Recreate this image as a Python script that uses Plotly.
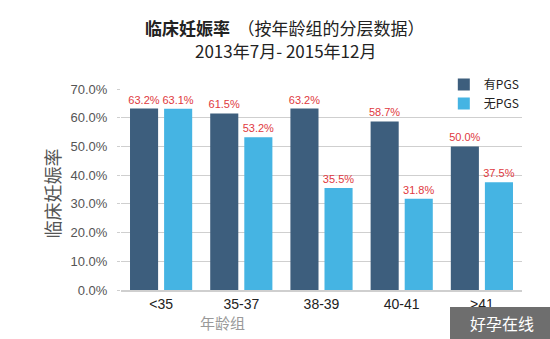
import plotly.graph_objects as go

categories = ["<35", "35-37", "38-39", "40-41", ">41"]
with_pgs = [63.2, 61.5, 63.2, 58.7, 50.0]
without_pgs = [63.1, 53.2, 35.5, 31.8, 37.5]
y_ticks = [0, 10, 20, 30, 40, 50, 60, 70]
y_tick_labels = [f"{v:.1f}%" for v in y_ticks]

FONT = "Liberation Sans, Noto Sans CJK SC, sans-serif"
CJK = "Noto Sans CJK SC, sans-serif"
RED = "#E0393E"

fig = go.Figure()
fig.add_trace(go.Bar(
    name="有PGS", x=categories, y=with_pgs,
    marker=dict(color="#3D5E7D", line=dict(width=0)),
    text=[f"{v:.1f}%" for v in with_pgs], textposition="outside",
    constraintext="none",
    textfont=dict(color=RED, size=11, family=FONT), cliponaxis=False,
))
fig.add_trace(go.Bar(
    name="无PGS", x=categories, y=without_pgs,
    marker=dict(color="#45B4E3", line=dict(width=0)),
    text=[f"{v:.1f}%" for v in without_pgs], textposition="outside",
    constraintext="none",
    textfont=dict(color=RED, size=11, family=FONT), cliponaxis=False,
))

fig.update_layout(
    width=550, height=339,
    margin=dict(l=121, r=28, t=89, b=49),
    paper_bgcolor="white", plot_bgcolor="white",
    barmode="group", bargap=0.15, bargroupgap=0.176,
    font=dict(family=FONT, color="#333"),
    showlegend=True,
    legend=dict(x=0.805, y=1.095, xanchor="left", yanchor="top",
                bgcolor="rgba(0,0,0,0)", font=dict(size=12, family=CJK, color="#222"),
                itemwidth=30, tracegroupgap=0),
)
fig.update_yaxes(
    range=[0, 70], tickvals=y_ticks, ticktext=y_tick_labels,
    showgrid=True, gridcolor="#CFCFCF", gridwidth=1,
    tickfont=dict(size=13, color="#555", family=FONT),
    ticks="outside", ticklen=3, tickcolor="#CFCFCF", ticklabelstandoff=7,
    zeroline=False, showline=False,
)
fig.update_xaxes(
    tickfont=dict(size=14, color="#222", family=FONT),
    showline=True, linecolor="#CFCFCF", linewidth=1.5,
    ticks="", showgrid=False,
)

# title (two lines)
fig.add_annotation(
    xref="paper", yref="paper", x=(285 - 121) / 401, y=(290 - 27) / 201,
    xanchor="center", yanchor="middle",
    text="<b>临床妊娠率</b>  （按年龄组的分层数据）",
    showarrow=False, font=dict(size=17, family=CJK, color="#222"),
)
fig.add_annotation(
    xref="paper", yref="paper", x=(286 - 121) / 401, y=(290 - 50) / 201,
    xanchor="center", yanchor="middle",
    text="2013年7月- 2015年12月",
    showarrow=False, font=dict(size=17, family=CJK, color="#222"),
)
# y axis title
fig.add_annotation(
    xref="paper", yref="paper", x=0, y=0.48, xanchor="center", yanchor="middle",
    xshift=-69, text="临床妊娠率", textangle=-90, showarrow=False,
    font=dict(size=18, family=CJK, color="#555"),
)
# x axis title
fig.add_annotation(
    xref="paper", yref="paper", x=(222 - 121) / 401, y=(290 - 322) / 201,
    xanchor="center", yanchor="middle",
    text="年龄组", showarrow=False,
    font=dict(size=15, family=CJK, color="#999"),
)
# watermark
fig.add_shape(type="rect", xref="paper", yref="paper",
              x0=(450 - 121) / 401, x1=(550 - 121) / 401,
              y0=(290 - 307) / 201, y1=(290 - 339) / 201,
              fillcolor="#6E6E6E", line=dict(width=0), layer="above")
fig.add_annotation(
    xref="paper", yref="paper", x=(502 - 121) / 401, y=(290 - 323) / 201,
    xanchor="center", yanchor="middle", text="好孕在线", showarrow=False,
    font=dict(size=16, family=CJK, color="white"),
)

fig.write_html("out.html")
